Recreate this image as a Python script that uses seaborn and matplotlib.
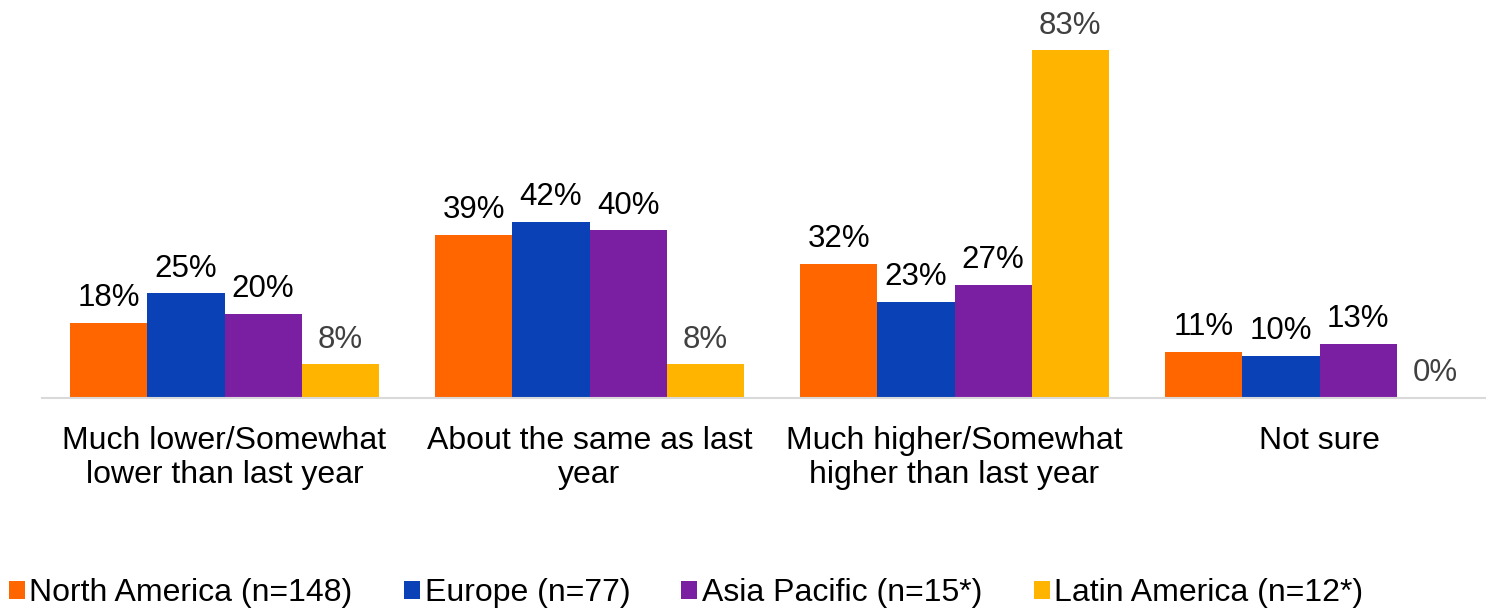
import matplotlib
matplotlib.use("Agg")
import matplotlib.pyplot as plt
import seaborn as sns
import pandas as pd

categories = [
    "Much lower/Somewhat\nlower than last year",
    "About the same as last\nyear",
    "Much higher/Somewhat\nhigher than last year",
    "Not sure",
]
regions = [
    "North America (n=148)",
    "Europe (n=77)",
    "Asia Pacific (n=15*)",
    "Latin America (n=12*)",
]
north_america = [18, 39, 32, 11]
europe = [25, 42, 23, 10]
asia_pacific = [20, 40, 27, 13]
latin_america = [8, 8, 83, 0]

colors = ["#FF6600", "#0A41B6", "#7B1FA2", "#FFB400"]
label_colors = ["#000000", "#000000", "#000000", "#404040"]

rows = []
for reg, vals in zip(regions, [north_america, europe, asia_pacific, latin_america]):
    for cat, v in zip(categories, vals):
        rows.append({"category": cat, "region": reg, "value": v})
df = pd.DataFrame(rows)

sns.set_theme(style="white")
plt.rcParams["font.family"] = ["Liberation Sans", "DejaVu Sans"]
plt.rcParams["text.color"] = "black"
plt.rcParams["xtick.color"] = "black"

fig = plt.figure(figsize=(14.86, 6.10), dpi=100)
ax = fig.add_axes([42 / 1486, 1 - 398 / 610, 1460 / 1486, 398 / 610])

sns.barplot(data=df, x="category", y="value", hue="region", order=categories,
            hue_order=regions, palette=colors, width=0.844, saturation=1,
            edgecolor="none", ax=ax, legend=True)

for cont, lc in zip(ax.containers, label_colors):
    ax.bar_label(cont, labels=[f"{int(v)}%" for v in cont.datavalues],
                 padding=7, fontsize=22.5, color=lc)

ax.set_xlim(-0.5, 3.5)
ax.set_ylim(0, 95)
ax.set_xlabel("")
ax.set_ylabel("")
ax.set_yticks([])
ax.tick_params(axis="x", length=0, labelsize=23, pad=20, labelcolor="black")
for lab in ax.get_xticklabels():
    lab.set_linespacing(1.17)
for s in ["top", "right", "left"]:
    ax.spines[s].set_visible(False)
ax.spines["bottom"].set_color("#D9D9D9")
ax.spines["bottom"].set_linewidth(1.5)

handles, labels = ax.get_legend_handles_labels()
ax.get_legend().remove()
leg = fig.legend(handles, labels, loc="center", bbox_to_anchor=(0.4617, 1 - 593 / 610),
                 ncol=4, frameon=False, fontsize=23, handlelength=0.5,
                 handleheight=0.5, handletextpad=0.15, columnspacing=1.6)
for t in leg.get_texts():
    t.set_color("black")

fig.savefig("out.png", dpi=100)
